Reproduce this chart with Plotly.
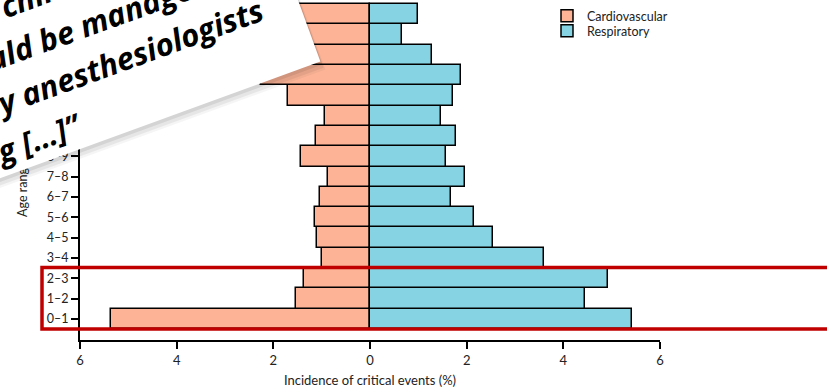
import math
import plotly.graph_objects as go

# ---------------- data ----------------
age_groups = ["0–1", "1–2", "2–3", "3–4", "4–5", "5–6", "6–7", "7–8",
              "8–9", "9–10", "10–11", "11–12", "12–13", "13–14", "14–15", "15–16"]
cardiovascular = [5.35, 1.53, 1.36, 1.00, 1.09, 1.13, 1.04, 0.86,
                  1.42, 1.11, 0.93, 1.70, 2.25, 2.10, 1.80, 1.90]
respiratory = [5.42, 4.45, 4.93, 3.59, 2.55, 2.16, 1.67, 1.96,
               1.57, 1.78, 1.46, 1.71, 1.88, 1.28, 0.67, 1.00]
x_tickvals = [-6, -4, -2, 0, 2, 4, 6]
x_ticktext = ["6", "4", "2", "0", "2", "4", "6"]
quote_lines = ["in children", "should be managed", "by anesthesiologists", "during […]”"]

# ---------------- layout geometry ----------------
W, H = 827, 388
ML, MR, MT, MB = 80, 167, 0, 48
PW, PH = W - ML - MR, H - MT - MB

PEACH = "#FCB396"
BLUE = "#86D4E3"
RED = "#C00000"
FONT = "Lato"


def px_to_paper(x, y):
    return (x - ML) / PW, (MT + PH - y) / PH


ANG = math.radians(20)
CA, SA = math.cos(ANG), math.sin(ANG)


def card_pt(s, n):
    x = s * CA + n * SA
    y = -s * SA + n * CA
    return px_to_paper(x, y)


fig = go.Figure()
fig.add_trace(go.Bar(
    y=age_groups, x=[-v for v in cardiovascular], orientation="h",
    name="Cardiovascular", legend="legend",
    marker=dict(color=PEACH, line=dict(color="black", width=1.5)),
))
fig.add_trace(go.Bar(
    y=age_groups, x=respiratory, orientation="h",
    name="Respiratory", legend="legend2",
    marker=dict(color=BLUE, line=dict(color="black", width=1.5)),
))

shapes = []
# red highlight rectangle
rx0, ry0 = px_to_paper(42, 329)
rx1, ry1 = px_to_paper(840, 267.5)
shapes.append(dict(type="rect", xref="paper", yref="paper", x0=rx0, x1=rx1, y0=ry0, y1=ry1,
                   line=dict(color=RED, width=3.5), fillcolor="rgba(0,0,0,0)", layer="above"))

annotations = []
# card (shadow + white card) as rotated annotations
S0, S1, N0, N1 = -400, 279.5, -300, 167.7
cw, ch = S1 - S0, N1 - N0
for ds, dn, alpha in [(2, 9, 0.04), (1.5, 6, 0.06), (1, 3, 0.08)]:
    cx, cy = card_pt((S0 + S1) / 2 + ds, (N0 + N1) / 2 + dn)
    annotations.append(dict(xref="paper", yref="paper", x=cx, y=cy, xanchor="center", yanchor="middle",
                            text=" ", showarrow=False, width=cw, height=ch, textangle=-20,
                            bgcolor=f"rgba(0,0,0,{alpha})", borderpad=0, borderwidth=0))
cx, cy = card_pt((S0 + S1) / 2, (N0 + N1) / 2)
annotations.append(dict(xref="paper", yref="paper", x=cx, y=cy, xanchor="center", yanchor="middle",
                        text=" ", showarrow=False, width=cw, height=ch, textangle=-20,
                        bgcolor="white", borderpad=0, borderwidth=0))
line_centers = [(40.5, 7.5), (60, 52.5), (94.5, 97.5), (-49.5, 142.5)]
for txt, (s, n) in zip(quote_lines, line_centers):
    tx, ty = card_pt(s, n)
    annotations.append(dict(xref="paper", yref="paper", x=tx, y=ty, xanchor="center", yanchor="middle",
                            text=txt, showarrow=False, textangle=-20,
                            font=dict(family="Open Sans", size=31, color="black", weight="bold", style="italic")))

leg_common = dict(xanchor="left", yanchor="top", bgcolor="rgba(0,0,0,0)",
                  font=dict(size=12.5, color="#222"), itemwidth=30)
fig.update_layout(
    width=W, height=H,
    margin=dict(l=ML, r=MR, t=MT, b=MB, autoexpand=False),
    paper_bgcolor="white", plot_bgcolor="white",
    barmode="relative", bargap=0,
    font=dict(family=FONT, size=13, color="#222"),
    showlegend=True,
    legend=dict(x=(547 - ML) / PW, y=(MT + PH - 1) / PH, **leg_common),
    legend2=dict(x=(547 - ML) / PW, y=(MT + PH - 16) / PH, **leg_common),
    xaxis=dict(range=[-6, 6], tickvals=x_tickvals, ticktext=x_ticktext,
               showline=True, linecolor="black", linewidth=1.8,
               ticks="outside", ticklen=7, tickwidth=1.5, tickcolor="black",
               showgrid=False, zeroline=False, tickfont=dict(size=13),
               title=dict(text="Incidence of critical events (%)", standoff=10,
                          font=dict(size=13, color="#222"))),
    yaxis=dict(type="category", categoryorder="array", categoryarray=age_groups,
               range=[-1.04, 15.7],
               showline=True, linecolor="black", linewidth=1.8,
               ticks="outside", ticklen=7, tickwidth=1.5, tickcolor="black",
               showgrid=False, zeroline=False, tickfont=dict(size=12.5),
               title=dict(text="Age range (years)", standoff=2,
                          font=dict(size=12.5, color="#222"))),
    shapes=shapes,
    annotations=annotations,
)

fig.write_html("out.html", config={"displayModeBar": False},
               post_script="document.body.style.margin='0';document.body.style.overflow='hidden';")
